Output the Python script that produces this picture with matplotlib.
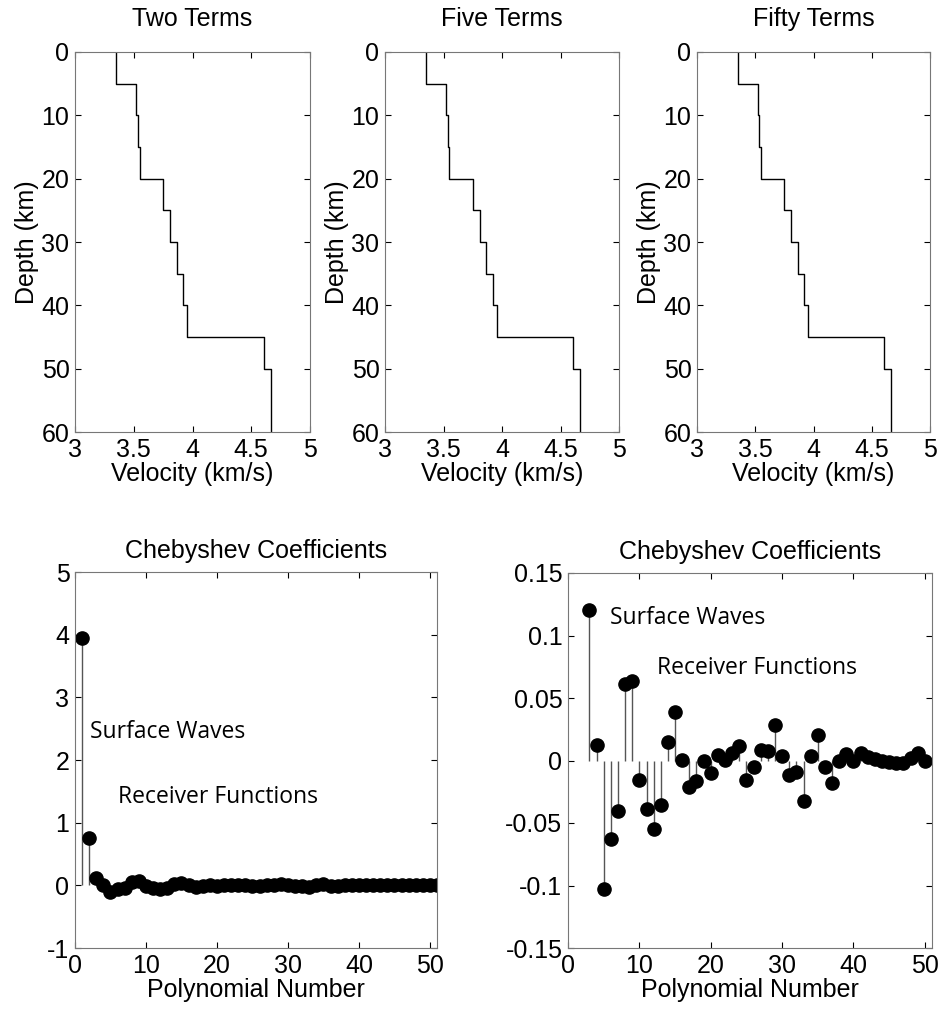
import numpy as np
import matplotlib.pyplot as plt

# layered velocity model (km/s) and layer top depths (km)
depth_tops = [0, 5, 10, 15, 20, 25, 30, 35, 40, 45, 50, 60]
velocity = [3.35, 3.52, 3.535, 3.55, 3.75, 3.81, 3.865, 3.92, 3.955, 4.605, 4.665]

panel_titles = ["Two Terms", "Five Terms", "Fifty Terms"]

# Chebyshev coefficients, polynomial number 1..51
coef_n = list(range(1, 52))
coefs = [3.95, 0.75, 0.1205, 0.0128, -0.1027, -0.0627, -0.04, 0.061, 0.0635, -0.0152,
         -0.0387, -0.0547, -0.0355, 0.0152, 0.0392, 0.0005, -0.0208, -0.0165, 0.0, -0.0096,
         0.0048, 0.0005, 0.006, 0.012, -0.0152, -0.0053, 0.0085, 0.0075, 0.0288, 0.0035,
         -0.0112, -0.009, -0.032, 0.0035, 0.0205, -0.0048, -0.018, -0.0005, 0.0053, 0.0,
         0.006, 0.003, 0.001, 0.0, -0.001, -0.002, -0.002, 0.002, 0.006, 0.0, 0.0]

plt.rcParams['font.family'] = ['Liberation Sans', 'DejaVu Sans']
plt.rcParams['axes.unicode_minus'] = False
fs = 18

fig = plt.figure(figsize=(9.4, 10.14), dpi=100)
W, H = 940.0, 1014.0

def add_ax(l, r, t, b):
    return fig.add_axes([l / W, 1 - b / H, (r - l) / W, (b - t) / H])

top_boxes = [(75, 310), (385, 619), (697, 930)]
for (l, r), title in zip(top_boxes, panel_titles):
    ax = add_ax(l, r, 52, 432)
    ax.step(velocity + [velocity[-1]], depth_tops, where='pre', color='black', lw=1.0)
    ax.set_xlim(3, 5)
    ax.set_ylim(60, 0)
    ax.set_xticks([3, 3.5, 4, 4.5, 5])
    ax.set_xticklabels(['3', '3.5', '4', '4.5', '5'])
    ax.set_yticks([0, 10, 20, 30, 40, 50, 60])
    ax.set_title(title, fontsize=fs, pad=19)
    ax.set_xlabel("Velocity (km/s)", fontsize=fs, labelpad=0)
    ax.set_ylabel("Depth (km)", fontsize=fs, labelpad=2)
    ax.tick_params(labelsize=fs, direction='in', length=4, top=True, right=True, pad=4)
    for s in ax.spines.values():
        s.set_color('#777777')

def stem_plot(ax, n, v):
    ax.vlines(n, 0, v, color='#555555', lw=1.0)
    ax.plot(n, v, 'o', color='black', ms=9.5)

ann_font = ['Open Sans', 'DejaVu Sans']

ax1 = add_ax(75, 437, 572, 948)
stem_plot(ax1, coef_n, coefs)
ax1.set_xlim(0, 51)
ax1.set_ylim(-1, 5)
ax1.set_yticks([-1, 0, 1, 2, 3, 4, 5])
ax1.text(2.1, 2.45, "Surface Waves", fontsize=16.5, family=ann_font, va='center')
ax1.text(6.1, 1.41, "Receiver Functions", fontsize=16.5, family=ann_font, va='center')

ax2 = add_ax(568, 932, 573, 948)
stem_plot(ax2, coef_n[2:50], coefs[2:50])
ax2.set_xlim(0, 51)
ax2.set_ylim(-0.15, 0.15)
ax2.set_yticks([-0.15, -0.1, -0.05, 0, 0.05, 0.1, 0.15])
ax2.set_yticklabels(['-0.15', '-0.1', '-0.05', '0', '0.05', '0.1', '0.15'])
ax2.text(5.9, 0.114, "Surface Waves", fontsize=16.5, family=ann_font, va='center')
ax2.text(12.5, 0.074, "Receiver Functions", fontsize=16.5, family=ann_font, va='center')

for ax in (ax1, ax2):
    ax.set_xticks([0, 10, 20, 30, 40, 50])
    ax.set_title("Chebyshev Coefficients", fontsize=fs, pad=10)
    ax.set_xlabel("Polynomial Number", fontsize=fs, labelpad=0)
    ax.tick_params(labelsize=fs, direction='in', length=4, top=True, right=True, pad=4)
    for s in ax.spines.values():
        s.set_color('#777777')

fig.savefig("out.png", dpi=100)
